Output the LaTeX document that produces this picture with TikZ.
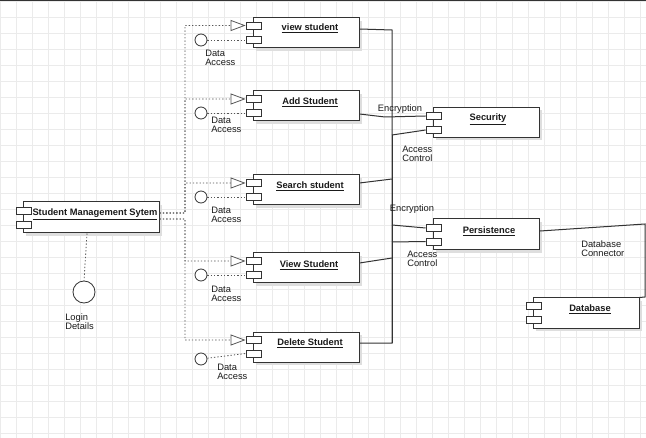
\documentclass[tikz,border=0pt]{standalone}
\usepackage{fontspec}
\setmainfont{Liberation Sans}
\usetikzlibrary{arrows.meta}
\usetikzlibrary{shadows}
\definecolor{umlink}{HTML}{1A1A1A}
\definecolor{umlline}{HTML}{333333}
\definecolor{umldots}{HTML}{555555}
\definecolor{umlgrid}{HTML}{EBEBEB}
\definecolor{umlshadow}{HTML}{DEDEDE}
\tikzset{
  umlcomp/.style={
    draw=umlline, fill=white, line width=0.75pt, inner sep=0pt,
    minimum width=79.5pt, minimum height=22.5pt,
    drop shadow={shadow xshift=2.25pt, shadow yshift=-2.25pt,
      fill=umlshadow, opacity=1}},
  umlport/.style={
    draw=umlline, fill=white, line width=0.6pt, inner sep=0pt,
    minimum width=11.25pt, minimum height=5.25pt},
  umltitle/.style={font=\fontsize{7}{8}\selectfont\bfseries, text=umlink,
    inner sep=0pt, yshift=-2.4pt},
  umllabel/.style={anchor=north west, align=left, inner sep=0pt,
    font=\fontsize{7}{6.75}\selectfont, text=umlink},
  umliface/.style={circle, draw=umlline, fill=white, line width=0.6pt,
    minimum size=9pt, inner sep=0pt},
  umlreal/.style={draw=umldots, line width=0.6pt,
    dash pattern=on 1pt off 1.5pt,
    -{Triangle[length=11.25pt, width=8.25pt, fill=white, line width=0.6pt]}},
  umluse/.style={draw=umldots, line width=0.6pt,
    dash pattern=on 1pt off 1.5pt},
  umllink/.style={draw=umlline, line width=0.75pt},
  gridline/.style={draw=umlgrid, line width=0.6pt},
}

\begin{document}
\begin{tikzpicture}[x=0.75pt, y=-0.75pt]

% Page and grid.
\useasboundingbox (0,0) rectangle (646,438);
\fill[white] (0,0) rectangle (646,438);
\foreach \gx in {0,16,...,640} \draw[gridline] (\gx,0) -- (\gx,438);
\foreach \gy in {1,17,...,433} \draw[gridline] (0,\gy) -- (646,\gy);
\draw[umlline, line width=1.2pt] (0,0.6) -- (646,0.6);

% The main system and its login interface.
\node[umlcomp, minimum width=102pt, minimum height=23.25pt]
  (sms) at (91,217.5) {};
\node[umlport] (smsp1) at (24,210.5) {};
\node[umlport] (smsp2) at (24,225) {};
\node[umltitle] (smst) at (95,211) {\underline{Student Management Sytem}};
\node[umliface, minimum size=16.5pt] (login) at (84,292) {};
\node[umllabel] (loginl) at (65,313.5) {Login\\Details};
\draw[umluse] ([xshift=-3pt]sms.south) -- (login.north);

% Student components.
\node[umlcomp] (vs) at (306,33) {};
\node[umlport] (vsp1) at (253.5,25.5) {};
\node[umlport] (vsp2) at (253.5,40) {};
\node[umltitle] (vst) at (310,25) {\underline{view student}};

\node[umlcomp] (as) at (306,106) {};
\node[umlport] (asp1) at (253.5,99) {};
\node[umlport] (asp2) at (253.5,113) {};
\node[umltitle] (ast) at (310,99) {\underline{Add Student}};

\node[umlcomp] (ss) at (306,190) {};
\node[umlport] (ssp1) at (253.5,183) {};
\node[umlport] (ssp2) at (253.5,197) {};
\node[umltitle] (sst) at (310,183) {\underline{Search student}};

\node[umlcomp] (vt) at (306,268) {};
\node[umlport] (vtp1) at (253.5,261) {};
\node[umlport] (vtp2) at (253.5,275) {};
\node[umltitle] (vtt) at (309,262) {\underline{View Student}};

\node[umlcomp] (ds) at (306,347) {};
\node[umlport] (dsp1) at (253.5,340) {};
\node[umlport] (dsp2) at (253.5,353.5) {};
\node[umltitle] (dst) at (310,340) {\underline{Delete Student}};

% Realizations from the system, through one dotted bus.
\coordinate (relA) at (185,213);
\coordinate (relB) at (185,219);
\draw[umlreal] ([yshift=3.4pt]sms.east) -- (relA) |- (vsp1.west);
\draw[umlreal] ([yshift=3.4pt]sms.east) -- (relA) |- (asp1.west);
\draw[umlreal] ([yshift=3.4pt]sms.east) -- (relA) |- (ssp1.west);
\draw[umlreal] ([yshift=-1.1pt]sms.east) -- (relB) |- (vtp1.west);
\draw[umlreal] ([yshift=-1.1pt]sms.east) -- (relB) |- (dsp1.west);

% Data access interfaces.
\node[umliface] (vsda) at (201,40) {};
\node[umliface] (asda) at (201,113) {};
\node[umliface] (ssda) at (201,197) {};
\node[umliface] (vtda) at (201,275) {};
\node[umliface] (dsda) at (201,359) {};
\draw[umluse] (vsda) -- (vsp2.west);
\draw[umluse] (asda) -- (asp2.west);
\draw[umluse] (ssda) -- (ssp2.west);
\draw[umluse] (vtda) -- (vtp2.west);
\draw[umluse] (dsda) -- (dsp2.west);
\node[umllabel] (vsdal) at (205,49.5) {Data\\Access};
\node[umllabel] (asdal) at (211,116.5) {Data\\Access};
\node[umllabel] (ssdal) at (211,206.5) {Data\\Access};
\node[umllabel] (vtdal) at (211,285.5) {Data\\Access};
\node[umllabel] (dsdal) at (217,363.5) {Data\\Access};

% Security and persistence services.
\node[umlcomp] (sec) at (486,122.5) {};
\node[umlport] (secp1) at (433.5,116) {};
\node[umlport] (secp2) at (433.5,130) {};
\node[umltitle] (sect) at (488,116) {\underline{Security}};

\node[umlcomp, minimum height=23.25pt] (per) at (486,234.5) {};
\node[umlport] (perp1) at (433.5,228) {};
\node[umlport] (perp2) at (433.5,241.5) {};
\node[umltitle] (pert) at (489,228) {\underline{Persistence}};

\node[umlcomp] (db) at (586,313) {};
\node[umlport] (dbp1) at (533.5,306) {};
\node[umlport] (dbp2) at (533.5,319.5) {};
\node[umltitle] (dbt) at (590,306) {\underline{Database}};

% Solid bus on the right.
\coordinate (busT) at (392,30);
\coordinate (busB) at (392,343);
\coordinate (busSec) at (392,135);
\coordinate (busSs) at (392,179);
\coordinate (busPer1) at (392,225);
\coordinate (busPer2) at (392,242);
\coordinate (busVt) at (392,258);
\coordinate (encSec) at (385,117);
\draw[umllink] ([yshift=3pt]vs.east) -- (busT) -- (busB)
  -- ([yshift=3pt]ds.east);
\draw[umllink] (busSec) -- (busB);
\draw[umllink] ([yshift=-6pt]as.east) -- (encSec) -- (secp1.west);
\draw[umllink] (busSec) -- (secp2.west);
\draw[umllink] ([yshift=5.25pt]ss.east) -- (busSs);
\draw[umllink] (busPer1) -- (perp1.west);
\draw[umllink] (busPer2) -- (perp2.west);
\draw[umllink] ([yshift=3.75pt]vt.east) -- (busVt);
\node[umllabel, anchor=center] (encsecl) at (400,109) {Encryption};
\node[umllabel] (acsecl) at (402,145.5) {Access\\Control};
\node[umllabel, anchor=center] (encperl) at (412,209) {Encryption};
\node[umllabel] (acperl) at (407,250.5) {Access\\Control};

% Database connector.
\coordinate (dbT) at (645,224);
\coordinate (dbB) at (645,297);
\draw[umllink] ([yshift=2.6pt]per.east) -- (dbT) -- (dbB) -- (db.north east);
\node[umllabel] (dbcl) at (581,240.5) {Database\\Connector};

\end{tikzpicture}
\end{document}
